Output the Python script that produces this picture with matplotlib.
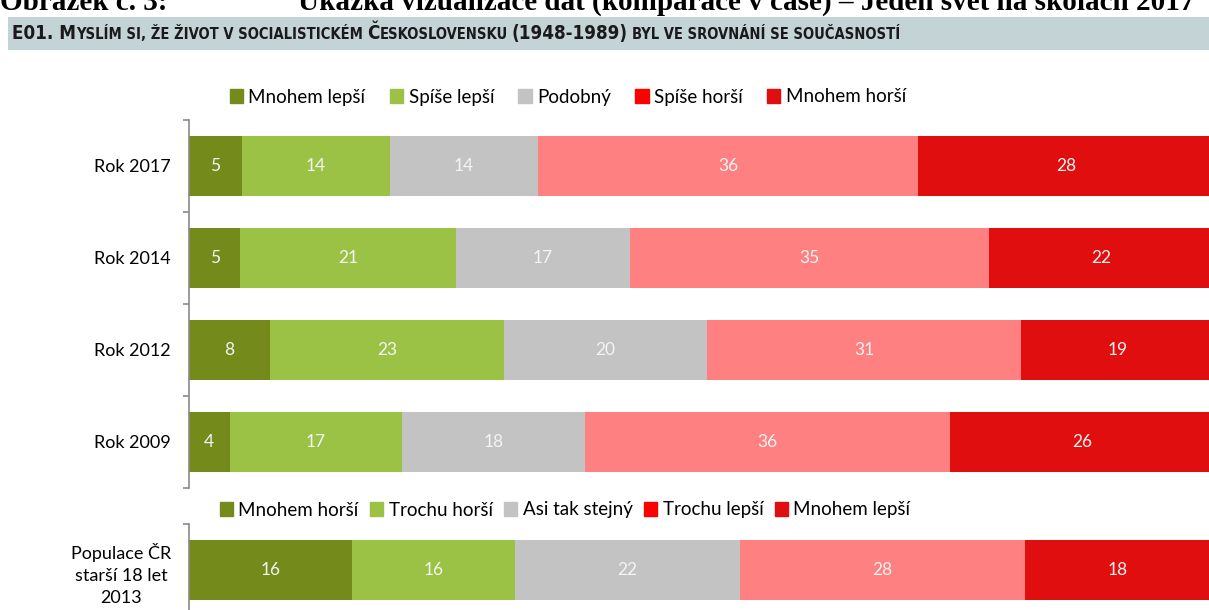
import matplotlib.pyplot as plt
from matplotlib.patches import Patch, Rectangle
from matplotlib.text import Annotation

# data
roky = ['Rok 2017', 'Rok 2014', 'Rok 2012', 'Rok 2009']
mnohem_lepsi = [5, 5, 8, 4]
spise_lepsi = [14, 21, 23, 17]
podobny = [14, 17, 20, 18]
spise_horsi = [36, 35, 31, 36]
mnohem_horsi = [28, 22, 19, 26]
nazvy_top = ['Mnohem lepší', 'Spíše lepší', 'Podobný', 'Spíše horší', 'Mnohem horší']

pop_label = ['Populace ČR\nstarší 18 let\n2013']
pop_values = [16, 16, 22, 28, 18]
nazvy_pop = ['Mnohem horší', 'Trochu horší', 'Asi tak stejný', 'Trochu lepší', 'Mnohem lepší']

bar_colors = ['#748b1b', '#9bc145', '#c3c3c3', '#ff8080', '#e00e0e']
leg_colors = ['#748b1b', '#9bc145', '#c3c3c3', '#ff0000', '#e00e0e']

plt.rcParams['font.family'] = ['Lato', 'DejaVu Sans']

W, H = 1209, 610
fig = plt.figure(figsize=(W / 100, H / 100), dpi=100)

# nadpis dokumentu (oriznuty nahore)
fig.text(0 / W, 1 - 10 / H, 'Obrázek č. 3:', fontsize=21, fontweight='bold',
         family='Liberation Serif', va='baseline')
fig.text(298 / W, 1 - 10 / H, 'Ukázka vizualizace dat (komparace v čase) – Jeden svět na školách 2017',
         fontsize=21, fontweight='bold', family='Liberation Serif', va='baseline')

# sedy pruh s otazkou
fig.patches.append(Rectangle((8 / W, 1 - 50 / H), 1, 33 / H, transform=fig.transFigure,
                             facecolor='#c4d3d6', edgecolor='none', zorder=0))
# kapitalky poskladane z vetsich a mensich kusu
casti = [('E01. M', 13.5, 0), ('YSLÍM SI, ŽE ŽIVOT V SOCIALISTICKÉM', 10.5, 0), ('Č', 13.5, 3),
         ('ESKOSLOVENSKU', 10.5, 0), ('(1948-1989)', 13.5, 3), ('BYL VE SROVNÁNÍ SE SOUČASNOSTÍ', 10.5, 3)]
y_base = 1 - 39 / H
hfam = 'DejaVu Sans'
prev = fig.text(12 / W, y_base, casti[0][0], fontsize=casti[0][1], fontweight='bold',
                family=hfam, stretch='condensed', va='baseline', color='#1a1a1a')
for txt, fs, gap in casti[1:]:
    prev = fig.add_artist(Annotation(
        txt, xy=(1, y_base), xycoords=(prev, 'figure fraction'),
        xytext=(gap, 0), textcoords='offset points', fontsize=fs, fontweight='bold',
        family=hfam, stretch='condensed', va='baseline', ha='left', color='#1a1a1a',
        annotation_clip=False))


def styl_osy(ax, n):
    ax.set_xlim(0, 100)
    ax.set_ylim(n - 0.5, -0.5)
    for s in ['top', 'right', 'bottom']:
        ax.spines[s].set_visible(False)
    ax.spines['left'].set_color('#8a8a8a')
    ax.spines['left'].set_linewidth(1.2)
    ax.set_xticks([])
    ax.set_yticks(range(n))
    ax.set_yticks([k - 0.5 for k in range(n + 1)], minor=True)
    ax.tick_params(axis='y', which='major', length=0, pad=13, labelsize=13)
    ax.tick_params(axis='y', which='minor', length=4.5, width=1.2, color='#8a8a8a')
    ax.patch.set_alpha(0)


def kresli(ax, serie, popisky):
    n = len(popisky)
    totals = [sum(s[k] for s in serie) for k in range(n)]
    left = [0] * n
    for s, c in zip(serie, bar_colors):
        w = [s[k] / totals[k] * 100 for k in range(n)]
        ax.barh(range(n), w, left=left, height=0.66, color=c, edgecolor='none')
        for k in range(n):
            ax.text(left[k] + w[k] / 2, k, str(s[k]), ha='center', va='center',
                    color='#f4f4f4', fontsize=12.5)
        left = [left[k] + w[k] for k in range(n)]
    styl_osy(ax, n)
    ax.set_yticklabels(popisky)


# horni graf
ax1 = fig.add_axes([189 / W, 1 - 488 / H, 1025 / W, 368 / H])
kresli(ax1, [mnohem_lepsi, spise_lepsi, podobny, spise_horsi, mnohem_horsi], roky)

# dolni graf
ax2 = fig.add_axes([189 / W, 1 - 616 / H, 1020 / W, 92 / H])
kresli(ax2, [[v] for v in pop_values], pop_label)
for t in ax2.get_yticklabels():
    t.set_multialignment('center')
    t.set_linespacing(1.45)

fig.legend([Patch(color=c) for c in leg_colors], nazvy_top, ncol=5, loc='center',
           bbox_to_anchor=(568 / W, 1 - 97 / H), frameon=False, fontsize=13.5,
           handlelength=0.7, handleheight=0.7, handletextpad=0.3, columnspacing=1.3)
fig.legend([Patch(color=c) for c in leg_colors], nazvy_pop, ncol=5, loc='center',
           bbox_to_anchor=(565 / W, 1 - 510 / H), frameon=False, fontsize=13.5,
           handlelength=0.7, handleheight=0.7, handletextpad=0.3, columnspacing=0.6)

fig.savefig('out.png', dpi=100)
